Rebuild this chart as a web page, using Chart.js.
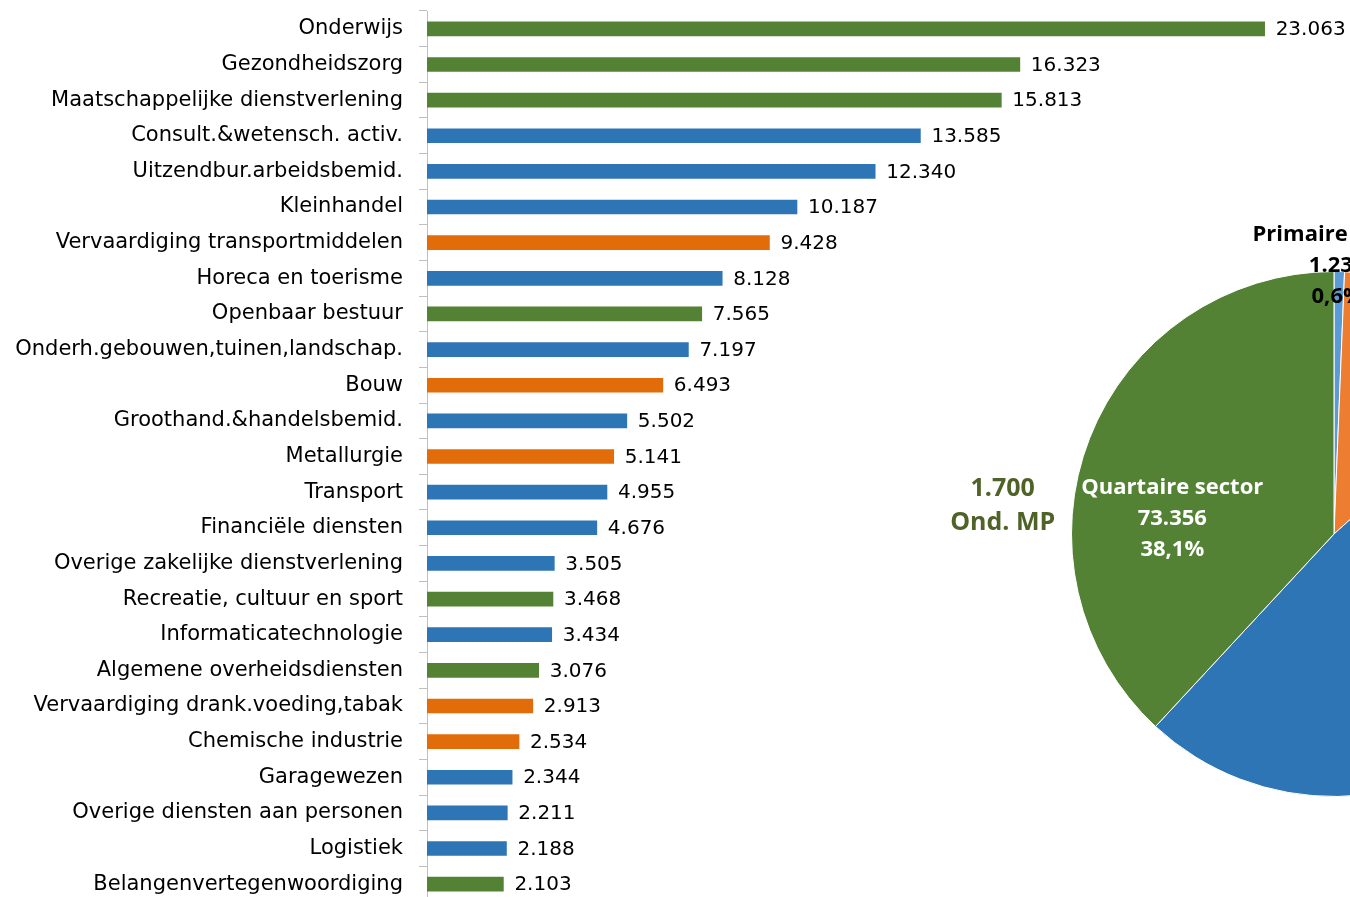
<!DOCTYPE html>
<html>
<head>
<meta charset="utf-8">
<script src="https://cdn.jsdelivr.net/npm/chart.js@4/dist/chart.umd.min.js"></script>
<style>
  html, body { margin: 0; padding: 0; overflow: hidden; background: #fff; }
  #wrap { position: relative; width: 1350px; height: 897px; overflow: hidden; }
  #bar-box { position: absolute; left: 0; top: 0; width: 1350px; height: 902px; }
  #pie-box { position: absolute; left: 934px; top: 134px; width: 800px; height: 800px; }
</style>
</head>
<body>
<div id="wrap">
  <div id="bar-box"><canvas id="bar-chart"></canvas></div>
  <div id="pie-box"><canvas id="pie-chart"></canvas></div>
</div>
<script>
// jobs per sector (bar chart)
const categories = [
  "Onderwijs", "Gezondheidszorg", "Maatschappelijke dienstverlening",
  "Consult.&wetensch. activ.", "Uitzendbur.arbeidsbemid.", "Kleinhandel",
  "Vervaardiging transportmiddelen", "Horeca en toerisme", "Openbaar bestuur",
  "Onderh.gebouwen,tuinen,landschap.", "Bouw", "Groothand.&handelsbemid.",
  "Metallurgie", "Transport", "Financiële diensten",
  "Overige zakelijke dienstverlening", "Recreatie, cultuur en sport",
  "Informaticatechnologie", "Algemene overheidsdiensten",
  "Vervaardiging drank.voeding,tabak", "Chemische industrie", "Garagewezen",
  "Overige diensten aan personen", "Logistiek", "Belangenvertegenwoordiging",
];
const values = [
  23063, 16323, 15813, 13585, 12340, 10187, 9428, 8128, 7565, 7197, 6493, 5502,
  5141, 4955, 4676, 3505, 3468, 3434, 3076, 2913, 2534, 2344, 2211, 2188, 2103,
];
// S = secundair, T = tertiair, Q = quartair
const sectors = [
  "Q", "Q", "Q", "T", "T", "T", "S", "T", "Q", "T", "S", "T",
  "S", "T", "T", "T", "Q", "T", "Q", "S", "S", "T", "T", "T", "Q",
];

// pie: totals per sector
const pieLabels = ["Primaire sector", "Secundaire sector", "Tertiaire sector", "Quartaire sector"];
const pieValues = [1235, 24500, 93444, 73356];

const barColors = { S: "#e36c0a", T: "#2e75b6", Q: "#548235" };
const pieColors = ["#5b9bd5", "#ed7d31", "#2e75b6", "#548235"];

const fmt = (v) => String(v).replace(/\B(?=(\d{3})+(?!\d))/g, ".");

// value labels next to the bars
const barLabels = {
  id: "barLabels",
  afterDatasetsDraw(chart) {
    const ctx = chart.ctx;
    ctx.save();
    ctx.font = "20px 'DejaVu Sans'";
    ctx.fillStyle = "#000";
    ctx.textBaseline = "middle";
    ctx.textAlign = "left";
    chart.getDatasetMeta(0).data.forEach((bar, i) => {
      ctx.fillText(fmt(values[i]), bar.x + 11, bar.y + 1);
    });
    ctx.restore();
  },
};

const barCtx = document.getElementById("bar-chart").getContext("2d");
new Chart(barCtx, {
  type: "bar",
  data: {
    labels: categories,
    datasets: [
      {
        data: values,
        backgroundColor: sectors.map((s) => barColors[s]),
        barThickness: 14,
      },
    ],
  },
  options: {
    indexAxis: "y",
    responsive: true,
    maintainAspectRatio: false,
    animation: false,
    layout: { padding: { top: 11, bottom: 0, right: 15, left: 0 } },
    plugins: { legend: { display: false }, tooltip: { enabled: false } },
    scales: {
      x: { display: false, min: 0, max: 25000 },
      y: {
        afterFit: (s) => {
          s.width = 427;
          s.paddingTop = 0;
          s.paddingBottom = 0;
        },
        grid: {
          display: true,
          drawOnChartArea: false,
          drawTicks: true,
          tickLength: 8,
          color: "#bfbfbf",
          offset: true,
        },
        border: { display: true, color: "#bfbfbf" },
        ticks: {
          color: "#000",
          padding: 16,
          font: { family: "DejaVu Sans", size: 21 },
        },
      },
    },
  },
  plugins: [barLabels],
});

// labels on the pie, placed relative to the centre (in radius units)
const pieText = {
  id: "pieText",
  afterDatasetsDraw(chart) {
    const ctx = chart.ctx;
    const arcs = chart.getDatasetMeta(0).data;
    const cx = arcs[0].x, cy = arcs[0].y, r = arcs[0].outerRadius;
    const total = pieValues.reduce((a, b) => a + b, 0);
    const pct = (v) => (v / total * 100).toFixed(1).replace(".", ",") + "%";
    const put = (i, dx, dy, color) => {
      const lines = [pieLabels[i], fmt(pieValues[i]), pct(pieValues[i])];
      lines.forEach((t, k) => {
        ctx.fillStyle = color;
        ctx.fillText(t, cx + dx * r, cy + dy * r + (k - 1) * 31);
      });
    };
    ctx.save();
    ctx.textAlign = "center";
    ctx.textBaseline = "middle";
    ctx.font = "bold 22px 'Open Sans'";
    put(0, 0.012, -1.022, "#000");
    put(3, -0.616, -0.057, "#fff");
    // extra note left of the pie
    ctx.font = "bold 25px 'Open Sans'";
    ctx.fillStyle = "#4f6228";
    ctx.fillText("1.700", cx - 1.262 * r, cy - 45);
    ctx.fillText("Ond. MP", cx - 1.262 * r, cy - 11);
    ctx.restore();
  },
};

const pieCtx = document.getElementById("pie-chart").getContext("2d");
new Chart(pieCtx, {
  type: "pie",
  data: {
    labels: pieLabels,
    datasets: [
      {
        data: pieValues,
        backgroundColor: pieColors,
        borderColor: "#fff",
        borderWidth: 1,
      },
    ],
  },
  options: {
    responsive: true,
    maintainAspectRatio: false,
    animation: false,
    layout: { padding: 137 },
    plugins: { legend: { display: false }, tooltip: { enabled: false } },
  },
  plugins: [pieText],
});
</script>
</body>
</html>
